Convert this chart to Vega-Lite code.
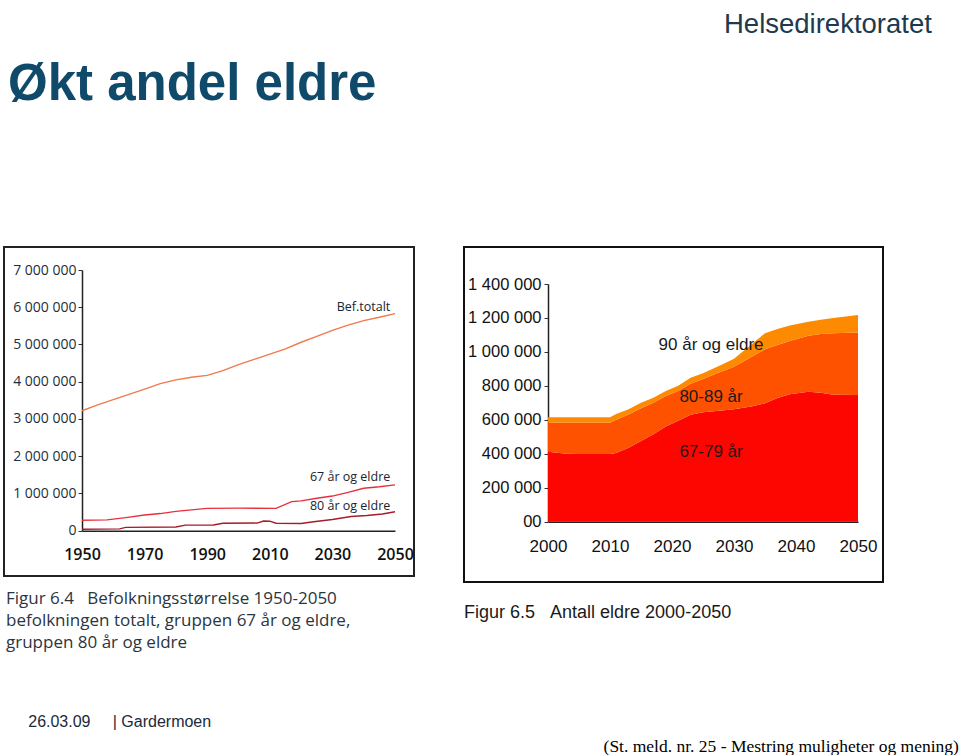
{
  "$schema": "https://vega.github.io/schema/vega-lite/v6.json",
  "background": "white",
  "padding": {"left": 3, "top": 10, "right": 0, "bottom": 0},
  "config": {"axis": {"grid": false}, "view": {"stroke": null}},
  "title": {
    "text": "(St. meld. nr. 25 - Mestring muligheter og mening)",
    "orient": "bottom", "anchor": "end", "frame": "bounds",
    "font": "Liberation Serif", "fontSize": 17.5, "fontWeight": "normal", "color": "#000000",
    "baseline": "top", "offset": 7, "dx": 27
  },
  "resolve": {"scale": {"color": "independent"}},
  "spacing": 48,
  "hconcat": [
    {
      "title": {
        "text": "Økt andel eldre", "anchor": "start", "frame": "group", "orient": "top",
        "font": "Liberation Sans", "fontSize": 51, "fontWeight": "bold", "color": "#0f4a6b",
        "baseline": "alphabetic", "offset": 95, "dx": 4
      },
      "vconcat": [
        {
          "width": 410, "height": 329,
          "view": {"stroke": "#222222", "strokeWidth": 2},
          "title": {
            "text": ["Figur 6.4\u00a0\u00a0\u00a0Befolkningsstørrelse 1950-2050", "befolkningen totalt, gruppen 67 år og eldre,", "gruppen 80 år og eldre"],
            "subtitle": "\u200b\u00a0\u00a0\u00a0\u00a0\u00a026.03.09\u00a0\u00a0\u00a0\u00a0\u00a0| Gardermoen",
            "orient": "bottom", "anchor": "start", "frame": "group",
            "font": "Open Sans", "fontSize": 17, "fontWeight": "normal", "color": "#2b3540",
            "lineHeight": 22, "baseline": "top", "offset": 15, "dx": 2,
            "subtitleFont": "Liberation Sans", "subtitleFontSize": 16, "subtitleColor": "#1b2a3a",
            "subtitlePadding": 62
          },
          "layer": [
            {
              "mark": {"type": "rect", "filled": false, "stroke": "#9a9a9a", "strokeWidth": 1},
              "encoding": {
                "x": {"datum": 1950, "type": "quantitative"},
                "x2": {"datum": 2050},
                "y": {"datum": 0, "type": "quantitative"},
                "y2": {"datum": 7000000}
              }
            },
            {
              "data": {"values": [
                {"series": "Bef.totalt", "year": 1950, "value": 3220000},
                {"series": "Bef.totalt", "year": 1955, "value": 3380000},
                {"series": "Bef.totalt", "year": 1960, "value": 3520000},
                {"series": "Bef.totalt", "year": 1965, "value": 3660000},
                {"series": "Bef.totalt", "year": 1970, "value": 3800000},
                {"series": "Bef.totalt", "year": 1975, "value": 3950000},
                {"series": "Bef.totalt", "year": 1980, "value": 4050000},
                {"series": "Bef.totalt", "year": 1985, "value": 4120000},
                {"series": "Bef.totalt", "year": 1990, "value": 4170000},
                {"series": "Bef.totalt", "year": 1995, "value": 4300000},
                {"series": "Bef.totalt", "year": 2000, "value": 4460000},
                {"series": "Bef.totalt", "year": 2005, "value": 4600000},
                {"series": "Bef.totalt", "year": 2010, "value": 4740000},
                {"series": "Bef.totalt", "year": 2015, "value": 4880000},
                {"series": "Bef.totalt", "year": 2020, "value": 5060000},
                {"series": "Bef.totalt", "year": 2025, "value": 5220000},
                {"series": "Bef.totalt", "year": 2030, "value": 5380000},
                {"series": "Bef.totalt", "year": 2035, "value": 5520000},
                {"series": "Bef.totalt", "year": 2040, "value": 5640000},
                {"series": "Bef.totalt", "year": 2045, "value": 5730000},
                {"series": "Bef.totalt", "year": 2050, "value": 5830000},
                {"series": "67 år og eldre", "year": 1950, "value": 280000},
                {"series": "67 år og eldre", "year": 1958, "value": 290000},
                {"series": "67 år og eldre", "year": 1964, "value": 350000},
                {"series": "67 år og eldre", "year": 1970, "value": 420000},
                {"series": "67 år og eldre", "year": 1975, "value": 460000},
                {"series": "67 år og eldre", "year": 1980, "value": 520000},
                {"series": "67 år og eldre", "year": 1985, "value": 560000},
                {"series": "67 år og eldre", "year": 1990, "value": 600000},
                {"series": "67 år og eldre", "year": 2000, "value": 605000},
                {"series": "67 år og eldre", "year": 2012, "value": 600000},
                {"series": "67 år og eldre", "year": 2017, "value": 780000},
                {"series": "67 år og eldre", "year": 2020, "value": 800000},
                {"series": "67 år og eldre", "year": 2025, "value": 870000},
                {"series": "67 år og eldre", "year": 2030, "value": 930000},
                {"series": "67 år og eldre", "year": 2035, "value": 1030000},
                {"series": "67 år og eldre", "year": 2040, "value": 1140000},
                {"series": "67 år og eldre", "year": 2045, "value": 1180000},
                {"series": "67 år og eldre", "year": 2050, "value": 1230000},
                {"series": "80 år og eldre", "year": 1950, "value": 40000},
                {"series": "80 år og eldre", "year": 1962, "value": 50000},
                {"series": "80 år og eldre", "year": 1964, "value": 90000},
                {"series": "80 år og eldre", "year": 1980, "value": 100000},
                {"series": "80 år og eldre", "year": 1983, "value": 150000},
                {"series": "80 år og eldre", "year": 1992, "value": 155000},
                {"series": "80 år og eldre", "year": 1995, "value": 200000},
                {"series": "80 år og eldre", "year": 2006, "value": 205000},
                {"series": "80 år og eldre", "year": 2008, "value": 260000},
                {"series": "80 år og eldre", "year": 2010, "value": 255000},
                {"series": "80 år og eldre", "year": 2012, "value": 200000},
                {"series": "80 år og eldre", "year": 2020, "value": 195000},
                {"series": "80 år og eldre", "year": 2024, "value": 240000},
                {"series": "80 år og eldre", "year": 2030, "value": 300000},
                {"series": "80 år og eldre", "year": 2036, "value": 380000},
                {"series": "80 år og eldre", "year": 2041, "value": 410000},
                {"series": "80 år og eldre", "year": 2046, "value": 450000},
                {"series": "80 år og eldre", "year": 2050, "value": 510000}
              ]},
              "mark": {"type": "line", "strokeWidth": 1.4},
              "encoding": {
                "x": {
                  "field": "year", "type": "quantitative",
                  "scale": {"domain": [1950, 2050], "range": [78, 391], "nice": false, "zero": false},
                  "axis": {
                    "title": null, "values": [1950, 1970, 1990, 2010, 2030, 2050], "format": "d",
                    "offset": -45.3, "ticks": false, "tickSize": 0, "labelPadding": 16,
                    "domainColor": "#222222", "domainWidth": 1.5,
                    "labelFont": "Open Sans", "labelFontSize": 16, "labelFontWeight": 600,
                    "labelColor": "#111111", "labelFlush": false, "labelOverlap": false
                  }
                },
                "y": {
                  "field": "value", "type": "quantitative",
                  "scale": {"domain": [0, 7000000], "range": [283.7, 23], "nice": false},
                  "axis": {
                    "title": null, "values": [0, 1000000, 2000000, 3000000, 4000000, 5000000, 6000000, 7000000],
                    "labelExpr": "replace(replace(format(datum.value, ','), ',', ' '), ',', ' ')",
                    "offset": -78, "ticks": true, "tickSize": 4, "tickColor": "#333333", "labelPadding": 2,
                    "domainColor": "#222222", "domainWidth": 1.5,
                    "labelFont": "Open Sans", "labelFontSize": 14, "labelColor": "#1e2e3c",
                    "labelOverlap": false, "labelFlush": false
                  }
                },
                "color": {
                  "field": "series", "type": "nominal", "legend": null,
                  "scale": {"domain": ["Bef.totalt", "67 år og eldre", "80 år og eldre"], "range": ["#f07a4e", "#e8303c", "#a61c2a"]}
                }
              }
            },
            {
              "data": {"values": [
                {"label": "Bef.totalt", "year": 2048.5, "value": 6000000},
                {"label": "67 år og eldre", "year": 2048.5, "value": 1450000},
                {"label": "80 år og eldre", "year": 2048.5, "value": 660000}
              ]},
              "mark": {"type": "text", "align": "right", "baseline": "middle", "font": "Open Sans", "fontSize": 12.5, "color": "#1a2530"},
              "encoding": {
                "x": {"field": "year", "type": "quantitative"},
                "y": {"field": "value", "type": "quantitative"},
                "text": {"field": "label"}
              }
            }
          ]
        }
      ]
    },
    {
      "title": {
        "text": "Helsedirektoratet", "anchor": "start", "frame": "group", "orient": "top",
        "font": "Liberation Sans", "fontSize": 27.5, "fontWeight": "normal",
        "color": "#1d3a4e", "baseline": "alphabetic", "offset": 186, "dx": 260
      },
      "vconcat": [
        {
          "width": 419, "height": 335,
          "view": {"stroke": "#111111", "strokeWidth": 2},
          "title": {
            "text": "Figur 6.5\u00a0\u00a0\u00a0Antall eldre 2000-2050",
            "orient": "bottom", "anchor": "start", "frame": "group",
            "font": "Liberation Sans", "fontSize": 18, "fontWeight": "normal",
            "color": "#1a1a1a", "baseline": "top", "offset": 22
          },
          "layer": [
            {
              "data": {"values": [
                {"group": "67-79 år", "year": 2000, "value": 412000},
                {"group": "67-79 år", "year": 2003, "value": 400000},
                {"group": "67-79 år", "year": 2005, "value": 399000},
                {"group": "67-79 år", "year": 2010, "value": 399000},
                {"group": "67-79 år", "year": 2011, "value": 405000},
                {"group": "67-79 år", "year": 2013, "value": 435000},
                {"group": "67-79 år", "year": 2015, "value": 475000},
                {"group": "67-79 år", "year": 2017, "value": 515000},
                {"group": "67-79 år", "year": 2019, "value": 560000},
                {"group": "67-79 år", "year": 2021, "value": 595000},
                {"group": "67-79 år", "year": 2023, "value": 630000},
                {"group": "67-79 år", "year": 2025, "value": 645000},
                {"group": "67-79 år", "year": 2028, "value": 655000},
                {"group": "67-79 år", "year": 2030, "value": 662000},
                {"group": "67-79 år", "year": 2033, "value": 680000},
                {"group": "67-79 år", "year": 2035, "value": 698000},
                {"group": "67-79 år", "year": 2037, "value": 728000},
                {"group": "67-79 år", "year": 2039, "value": 750000},
                {"group": "67-79 år", "year": 2042, "value": 766000},
                {"group": "67-79 år", "year": 2044, "value": 760000},
                {"group": "67-79 år", "year": 2046, "value": 748000},
                {"group": "67-79 år", "year": 2050, "value": 746000},
                {"group": "80-89 år", "year": 2000, "value": 171000},
                {"group": "80-89 år", "year": 2003, "value": 183000},
                {"group": "80-89 år", "year": 2005, "value": 184000},
                {"group": "80-89 år", "year": 2010, "value": 184000},
                {"group": "80-89 år", "year": 2011, "value": 195000},
                {"group": "80-89 år", "year": 2013, "value": 197000},
                {"group": "80-89 år", "year": 2015, "value": 193000},
                {"group": "80-89 år", "year": 2017, "value": 185000},
                {"group": "80-89 år", "year": 2019, "value": 180000},
                {"group": "80-89 år", "year": 2021, "value": 175000},
                {"group": "80-89 år", "year": 2023, "value": 182000},
                {"group": "80-89 år", "year": 2025, "value": 195000},
                {"group": "80-89 år", "year": 2028, "value": 230000},
                {"group": "80-89 år", "year": 2030, "value": 251000},
                {"group": "80-89 år", "year": 2033, "value": 295000},
                {"group": "80-89 år", "year": 2035, "value": 317000},
                {"group": "80-89 år", "year": 2037, "value": 312000},
                {"group": "80-89 år", "year": 2039, "value": 315000},
                {"group": "80-89 år", "year": 2042, "value": 329000},
                {"group": "80-89 år", "year": 2044, "value": 345000},
                {"group": "80-89 år", "year": 2046, "value": 362000},
                {"group": "80-89 år", "year": 2050, "value": 369000},
                {"group": "90 år og eldre", "year": 2000, "value": 32000},
                {"group": "90 år og eldre", "year": 2003, "value": 32000},
                {"group": "90 år og eldre", "year": 2005, "value": 32000},
                {"group": "90 år og eldre", "year": 2010, "value": 32000},
                {"group": "90 år og eldre", "year": 2011, "value": 35000},
                {"group": "90 år og eldre", "year": 2013, "value": 30000},
                {"group": "90 år og eldre", "year": 2015, "value": 32000},
                {"group": "90 år og eldre", "year": 2017, "value": 30000},
                {"group": "90 år og eldre", "year": 2019, "value": 30000},
                {"group": "90 år og eldre", "year": 2021, "value": 30000},
                {"group": "90 år og eldre", "year": 2023, "value": 36000},
                {"group": "90 år og eldre", "year": 2025, "value": 35000},
                {"group": "90 år og eldre", "year": 2028, "value": 40000},
                {"group": "90 år og eldre", "year": 2030, "value": 47000},
                {"group": "90 år og eldre", "year": 2033, "value": 75000},
                {"group": "90 år og eldre", "year": 2035, "value": 95000},
                {"group": "90 år og eldre", "year": 2037, "value": 95000},
                {"group": "90 år og eldre", "year": 2039, "value": 90000},
                {"group": "90 år og eldre", "year": 2042, "value": 83000},
                {"group": "90 år og eldre", "year": 2044, "value": 85000},
                {"group": "90 år og eldre", "year": 2046, "value": 90000},
                {"group": "90 år og eldre", "year": 2050, "value": 103000}
              ]},
              "mark": {"type": "area"},
              "encoding": {
                "x": {
                  "field": "year", "type": "quantitative",
                  "scale": {"domain": [2000, 2050], "range": [84, 394], "nice": false, "zero": false},
                  "axis": {
                    "title": null, "values": [2000, 2010, 2020, 2030, 2040, 2050], "format": "d",
                    "offset": -60.3, "ticks": false, "tickSize": 0, "labelPadding": 17,
                    "domainColor": "#222222", "domainWidth": 1.5,
                    "labelFont": "Liberation Sans", "labelFontSize": 17,
                    "labelColor": "#111111", "labelFlush": false, "labelOverlap": false
                  }
                },
                "y": {
                  "field": "value", "type": "quantitative", "stack": "zero",
                  "scale": {"domain": [0, 1400000], "range": [274.7, 37], "nice": false},
                  "axis": {
                    "title": null, "values": [0, 200000, 400000, 600000, 800000, 1000000, 1200000, 1400000],
                    "labelExpr": "datum.value == 0 ? '00' : replace(replace(format(datum.value, ','), ',', ' '), ',', ' ')",
                    "offset": -84, "ticks": true, "tickSize": 4, "tickColor": "#333333", "labelPadding": 3,
                    "domainColor": "#222222", "domainWidth": 1.5,
                    "labelFont": "Liberation Sans", "labelFontSize": 16.5,
                    "labelColor": "#111111", "labelOverlap": false, "labelFlush": false
                  }
                },
                "color": {
                  "field": "group", "type": "nominal", "legend": null,
                  "scale": {"domain": ["67-79 år", "80-89 år", "90 år og eldre"], "range": ["#fd0500", "#fe5200", "#fd8a00"]}
                },
                "order": {"field": "group", "sort": "ascending"}
              }
            },
            {
              "data": {"values": [
                {"label": "90 år og eldre", "year": 2026.3, "value": 1040000},
                {"label": "80-89 år", "year": 2026.3, "value": 734000},
                {"label": "67-79 år", "year": 2026.3, "value": 410000}
              ]},
              "mark": {"type": "text", "align": "center", "baseline": "middle", "font": "Liberation Sans", "fontSize": 17, "color": "#1a1a1a"},
              "encoding": {
                "x": {"field": "year", "type": "quantitative"},
                "y": {"field": "value", "type": "quantitative"},
                "text": {"field": "label"}
              }
            }
          ]
        }
      ]
    }
  ]
}
